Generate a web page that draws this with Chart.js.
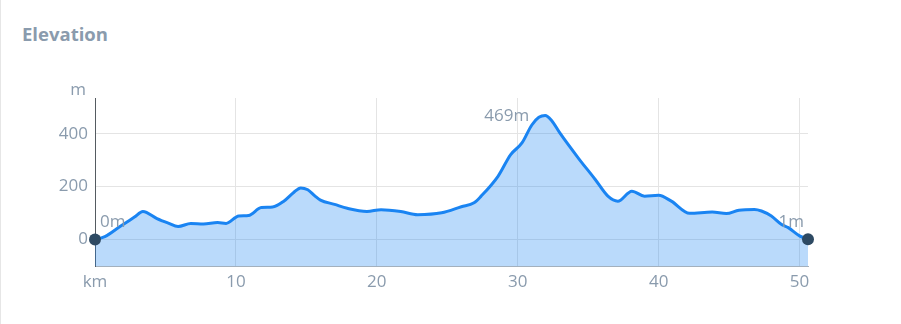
<!DOCTYPE html>
<html>
<head>
<meta charset="utf-8">
<script src="https://cdn.jsdelivr.net/npm/chart.js@4.4.1/dist/chart.umd.min.js"></script>
<style>
  html, body { margin: 0; padding: 0; background: #fff; }
  body { width: 901px; height: 324px; position: relative; overflow: hidden; }
  #frame { position: absolute; left: 0; top: 0; width: 900px; height: 324px; border-left: 1px solid #e6e6e6; }
  #title { position: absolute; left: 22px; top: 21px; font: bold 18.5px "Open Sans", sans-serif; color: #8a9bad; }
  canvas { position: absolute; left: 0; top: 0; }
</style>
</head>
<body>
<div id="frame"></div>
<div id="title">Elevation</div>
<canvas id="c" width="901" height="324"></canvas>
<script>
const distanceKm = [0, 0.7, 1.8, 2.8, 3.4, 4.4, 5.2, 5.9, 6.8, 7.7, 8.7, 9.3, 10.2, 10.9, 11.8, 12.6, 13.4, 14.1, 14.6, 15.1, 15.6, 16.0, 17.0, 17.9, 19.3, 20.3, 21.7, 22.9, 24.6, 26.0, 26.9, 27.4, 28.6, 29.5, 30.3, 31.0, 31.5, 31.95, 32.4, 33.0, 34.3, 35.5, 36.4, 37.1, 38.1, 39.0, 40.0, 40.9, 42.2, 43.8, 44.8, 45.7, 46.8, 47.3, 48.0, 48.7, 49.2, 50.0, 50.6];
const elevationM = [0, 11, 50, 85, 106, 79, 62, 49, 61, 59, 64, 61, 89, 91, 121, 123, 145, 178, 195, 188, 165, 149, 133, 118, 106, 113, 106, 94, 101, 124, 139, 164, 239, 321, 365, 433, 462, 469, 450, 402, 308, 227, 164, 145, 183, 164, 167, 145, 99, 104, 98, 111, 114, 108, 89, 58, 45, 14, 1];
const yTicks = [0, 200, 400];
const xTicks = [0, 10, 20, 30, 40, 50];
const yUnit = 'm';
const xUnit = 'km';
const labelColor = '#8a9bad';
const fontFamily = '"Open Sans", sans-serif';

const points = distanceKm.map((x, i) => ({ x: x, y: elevationM[i] }));
const lastIdx = points.length - 1;
let peakIdx = 0;
elevationM.forEach((v, i) => { if (v > elevationM[peakIdx]) peakIdx = i; });

const annotate = {
  id: 'annotate',
  afterDatasetsDraw(chart) {
    const ctx = chart.ctx;
    const xs = chart.scales.x, ys = chart.scales.y;
    ctx.save();
    ctx.fillStyle = labelColor;
    ctx.font = '17px ' + fontFamily;
    ctx.textBaseline = 'middle';
    ctx.textAlign = 'center';
    ctx.fillText(yUnit, xs.left - 17, ys.top - 8);
    ctx.textAlign = 'left';
    ctx.fillText(elevationM[0] + 'm', xs.getPixelForValue(distanceKm[0]) + 5, ys.getPixelForValue(elevationM[0]) - 17);
    ctx.textAlign = 'right';
    ctx.fillText(elevationM[lastIdx] + 'm', xs.getPixelForValue(distanceKm[lastIdx]) - 4, ys.getPixelForValue(elevationM[lastIdx]) - 17);
    ctx.fillText(elevationM[peakIdx] + 'm', xs.getPixelForValue(distanceKm[peakIdx]) - 16, ys.getPixelForValue(elevationM[peakIdx]) + 1);
    ctx.restore();
  }
};

new Chart(document.getElementById('c'), {
  type: 'line',
  data: {
    datasets: [{
      data: points,
      borderColor: '#1a84f2',
      borderWidth: 3,
      backgroundColor: 'rgba(25,132,242,0.30)',
      fill: 'start',
      clip: false,
      cubicInterpolationMode: 'monotone',
      pointRadius: ctx => (ctx.dataIndex === 0 || ctx.dataIndex === lastIdx) ? 6 : 0,
      pointBackgroundColor: '#2e4a63',
      pointBorderColor: '#2e4a63',
      pointBorderWidth: 0,
      pointHoverRadius: 0
    }]
  },
  plugins: [annotate],
  options: {
    responsive: false,
    animation: false,
    events: [],
    layout: { padding: { top: 98, right: 93, left: 0, bottom: 0 } },
    plugins: { legend: { display: false }, tooltip: { enabled: false } },
    scales: {
      x: {
        type: 'linear',
        min: distanceKm[0],
        max: distanceKm[lastIdx],
        afterBuildTicks: s => { s.ticks = xTicks.map(v => ({ value: v })); },
        afterFit: s => { s.height = 58; },
        grid: { color: '#e4e4e4', drawTicks: false },
        border: { color: '#a3b0bd', width: 1 },
        ticks: {
          padding: 6,
          color: labelColor,
          font: { family: fontFamily, size: 17 },
          maxRotation: 0,
          callback: v => v === 0 ? xUnit : String(v)
        }
      },
      y: {
        min: -100,
        max: 535,
        afterBuildTicks: s => { s.ticks = yTicks.map(v => ({ value: v })); },
        afterFit: s => { s.width = 95; },
        grid: { color: '#e4e4e4', drawTicks: false },
        border: { color: '#555b61', width: 1 },
        ticks: {
          padding: 7,
          color: labelColor,
          font: { family: fontFamily, size: 17 }
        }
      }
    }
  }
});
</script>
</body>
</html>
